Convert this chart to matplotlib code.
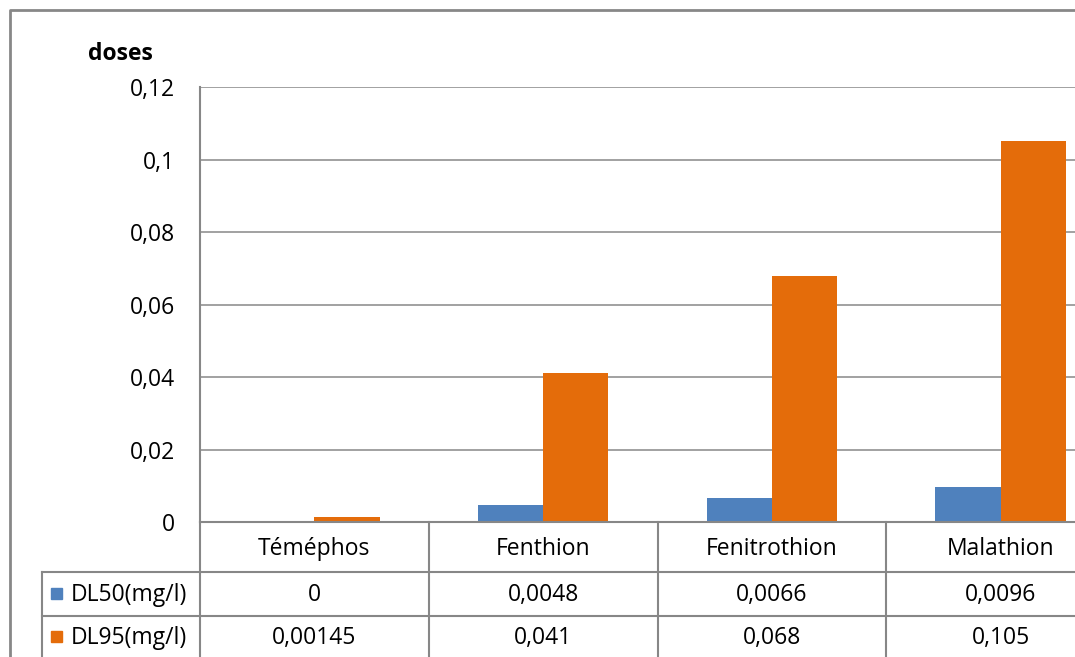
import matplotlib
matplotlib.use("Agg")
import matplotlib.pyplot as plt
from matplotlib.lines import Line2D
from matplotlib.patches import Rectangle
import numpy as np

categories = ["Téméphos", "Fenthion", "Fenitrothion", "Malathion"]
series_names = ["DL50(mg/l)", "DL95(mg/l)"]
dl50 = [0, 0.0048, 0.0066, 0.0096]
dl95 = [0.00145, 0.041, 0.068, 0.105]
y_ticks = [0, 0.02, 0.04, 0.06, 0.08, 0.1, 0.12]
y_label = "doses"

colors = ["#4F81BD", "#E46C0A"]
grid_c = "#878787"
W, H = 1075, 657
FS = 16.5
plt.rcParams['font.family'] = ['Open Sans', 'DejaVu Sans']

fig = plt.figure(figsize=(W / 100, H / 100), dpi=100)

def fx(px):
    return px / W

def fy(py):
    return (H - py) / H

# plot area in pixel coordinates (right edge extends beyond the image)
L, R, T, B = 200, 1115, 87, 522
ax = fig.add_axes([fx(L), fy(B), fx(R - L), fy(T) - fy(B)])
ax.set_xlim(-0.5, len(categories) - 0.5)
ax.set_ylim(0, 0.12)
x = np.arange(len(categories))
bw = 1 / 3.5
ax.bar(x - bw / 2, dl50, bw, color=colors[0], zorder=3)
ax.bar(x + bw / 2, dl95, bw, color=colors[1], zorder=3)
ax.set_yticks(y_ticks)
ax.set_yticklabels([f"{v:g}".replace('.', ',') for v in y_ticks], fontsize=FS)
ax.tick_params(axis='y', length=0, pad=18)
ax.set_xticks([])
ax.yaxis.grid(True, color=grid_c, linewidth=1.1, zorder=0)
for s in ["top", "right", "bottom"]:
    ax.spines[s].set_visible(False)
ax.spines["left"].set_color(grid_c)
ax.spines["left"].set_linewidth(1.5)

fig.text(fx(120), fy(54), y_label, fontsize=FS, fontweight='bold', ha='center', va='center')

# outer chart frame
def fline(xs, ys, lw=1.5):
    fig.add_artist(Line2D([fx(v) for v in xs], [fy(v) for v in ys],
                          color=grid_c, linewidth=lw, transform=fig.transFigure,
                          clip_on=False))

fline([10, 10, W], [H, 10, 10], lw=2)

# data table
cw = (R - L) / len(categories)
fline([L, W], [522, 522])
fline([42, W], [572, 572])
fline([42, W], [616, 616])
fline([42, 42], [572, H])
fline([L, L], [522, H])
for i in range(1, len(categories) + 1):
    xv = L + i * cw
    fline([xv, xv], [522, H])

for i, c in enumerate(categories):
    fig.text(fx(L + (i + 0.5) * cw), fy(549), c, fontsize=FS, ha='center', va='center')

row_centers = [595, 638]
for r, (name, vals) in enumerate(zip(series_names, [dl50, dl95])):
    yc = row_centers[r]
    fig.add_artist(Rectangle((fx(51), fy(yc + 4)), fx(11), fy(0) - fy(11),
                             color=colors[r], transform=fig.transFigure))
    fig.text(fx(71), fy(yc), name, fontsize=FS, ha='left', va='center')
    for i, v in enumerate(vals):
        fig.text(fx(L + (i + 0.5) * cw), fy(yc), f"{v:g}".replace('.', ','),
                 fontsize=FS, ha='center', va='center')

fig.savefig("out.png", dpi=100)
